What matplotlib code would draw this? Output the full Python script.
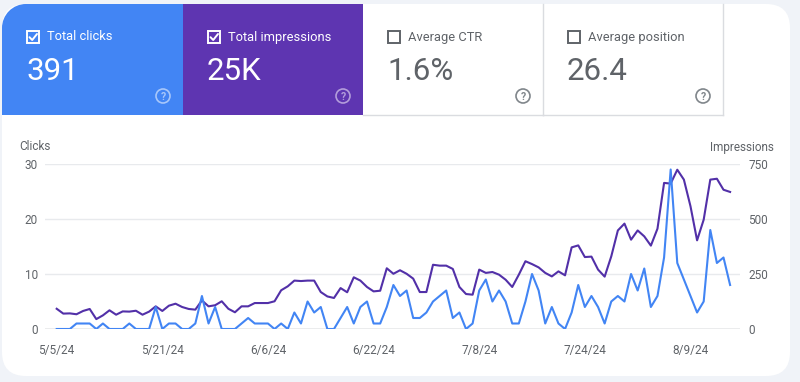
import numpy as np
import pandas as pd
import matplotlib
matplotlib.use("Agg")
import matplotlib.pyplot as plt
from matplotlib.patches import Rectangle, Circle, FancyBboxPatch

plt.rcParams['font.family'] = ['Roboto', 'DejaVu Sans']

# daily values, 5/5/24 .. 8/15/24
clicks = [0, 0, 0, 1, 1, 1, 0, 1, 0, 0, 0, 1, 0, 0, 0, 4, 0, 1, 1, 0,
          0, 1, 6, 1, 4, 0, 0, 0, 1, 2, 1, 1, 1, 0, 1, 0, 3, 1, 5, 3,
          4, 0, 0, 2, 4, 1, 4, 5, 1, 1, 4, 8, 6, 7, 2, 2, 3, 5, 6, 7,
          2, 3, 0, 1, 7, 9, 5, 7, 5, 1, 1, 5, 10, 7, 1, 4, 1, 0, 3, 8,
          4, 6, 4, 1, 5, 6, 5, 10, 7, 11, 4, 6, 13, 29, 12, 9, 6, 3, 5, 18,
          12, 13, 8]
impressions = [92, 70, 71, 67, 82, 91, 45, 62, 85, 65, 80, 79, 83, 65, 79, 103, 82, 106, 115, 100,
               91, 88, 130, 103, 108, 126, 92, 76, 103, 103, 118, 118, 118, 126, 176, 194, 220, 218, 220, 220,
               168, 148, 141, 186, 167, 235, 220, 191, 171, 174, 276, 251, 267, 251, 229, 168, 168, 292, 288, 288,
               273, 191, 159, 156, 270, 255, 259, 247, 224, 191, 247, 308, 295, 280, 255, 239, 262, 244, 371, 380,
               327, 329, 270, 238, 330, 448, 479, 406, 448, 421, 379, 456, 664, 661, 724, 679, 558, 403, 497, 679,
               683, 633, 623]
dates = pd.date_range('2024-05-05', periods=len(clicks), freq='D')

tiles = [("Total clicks", "391", True, '#4285f4'),
         ("Total impressions", "25K", True, '#5e35b1'),
         ("Average CTR", "1.6%", False, 'white'),
         ("Average position", "26.4", False, 'white')]

BLUE = '#4285f4'
PURPLE = '#5e35b1'
LINE_PURPLE = '#5230a8'
GRAY = '#5f6368'

fig = plt.figure(figsize=(8, 3.82), dpi=100)
fig.patch.set_facecolor('#f0f3f8')

# background / card layer in pixel coordinates
bg = fig.add_axes([0, 0, 1, 1])
bg.set_xlim(0, 800)
bg.set_ylim(382, 0)
bg.axis('off')
bg.set_zorder(-1)

bg.add_patch(FancyBboxPatch((2, 4), 788, 372, boxstyle="round,pad=0,rounding_size=24",
                            facecolor='white', edgecolor='none'))

tile_x = [2, 183, 363, 543]
tile_w = [181, 180, 180, 180]
for k, (label, value, checked, color) in enumerate(tiles):
    x0, w = tile_x[k], tile_w[k]
    if k == 0:
        r = 24
        bg.add_patch(Rectangle((x0 + r, 4), w - r, 111, facecolor=color, edgecolor='none'))
        bg.add_patch(Rectangle((x0, 4 + r), w, 111 - r, facecolor=color, edgecolor='none'))
        bg.add_patch(Circle((x0 + r, 4 + r), r, facecolor=color, edgecolor='none'))
    else:
        bg.add_patch(Rectangle((x0, 4), w, 111, facecolor=color, edgecolor='none'))
    if not checked:
        bg.plot([x0 + w, x0 + w], [4, 115], color='#dadce0', lw=1)
        bg.plot([x0, x0 + w], [115, 115], color='#dadce0', lw=1)

    cx = x0 + 25
    fg = 'white' if checked else GRAY
    bg.add_patch(Rectangle((cx, 31), 12, 12, facecolor='none', edgecolor=fg, lw=1.4))
    if checked:
        bg.plot([cx + 2.5, cx + 5.2, cx + 10], [37.2, 40, 34], color=fg, lw=1.4,
                solid_capstyle='round', solid_joinstyle='round')
    bg.text(cx + 20, 37, label, color=fg, fontsize=9.3, va='center', ha='left')
    bg.text(cx - 1, 72, value, color=fg, fontsize=22.5, va='center', ha='left')

    qc = {True: ('#a8c7fa' if k == 0 else '#b39ddb'), False: '#80868b'}[checked]
    qx = x0 + w - 20
    bg.add_patch(Circle((qx, 96), 7, facecolor='none', edgecolor=qc, lw=1.2))
    bg.text(qx, 96.5, "?", color=qc, fontsize=7.5, ha='center', va='center', fontweight='bold')

bg.text(19, 147, "Clicks", color=GRAY, fontsize=8.5, va='center', ha='left')
bg.text(774, 147, "Impressions", color=GRAY, fontsize=8.5, va='center', ha='right')

# chart
ax = fig.add_axes([45 / 800, (382 - 329) / 382, 695 / 800, 165 / 382])
ax2 = ax.twinx()

ax2.plot(dates, impressions, color=LINE_PURPLE, lw=1.5)
ax.plot(dates, clicks, color=BLUE, lw=1.5)
ax.set_zorder(ax2.get_zorder() + 1)
ax.patch.set_visible(False)

ax.set_ylim(0, 30)
ax2.set_ylim(0, 750)
ax.set_yticks([0, 10, 20, 30])
ax2.set_yticks([0, 250, 500, 750])
ax.set_xlim(dates[0] - pd.Timedelta(days=1.77), dates[-1] + pd.Timedelta(days=1.5))

for v in [10, 20, 30]:
    ax2.axhline(v * 25, color='#e8eaed', lw=1, zorder=0)
ax2.axhline(0, color='#9aa0a6', lw=1, zorder=0)

tick_dates = dates[::16]
ax.set_xticks(tick_dates)
ax.set_xticklabels([f"{d.month}/{d.day}/{d.strftime('%y')}" for d in tick_dates])

for a in (ax, ax2):
    for s in a.spines.values():
        s.set_visible(False)
    a.tick_params(length=0, labelsize=8.5, labelcolor=GRAY)
    a.set_facecolor('none')
ax.tick_params(axis='y', pad=5)
ax2.tick_params(axis='y', pad=6)
ax.tick_params(axis='x', pad=11)

fig.savefig('out.png', dpi=100)
